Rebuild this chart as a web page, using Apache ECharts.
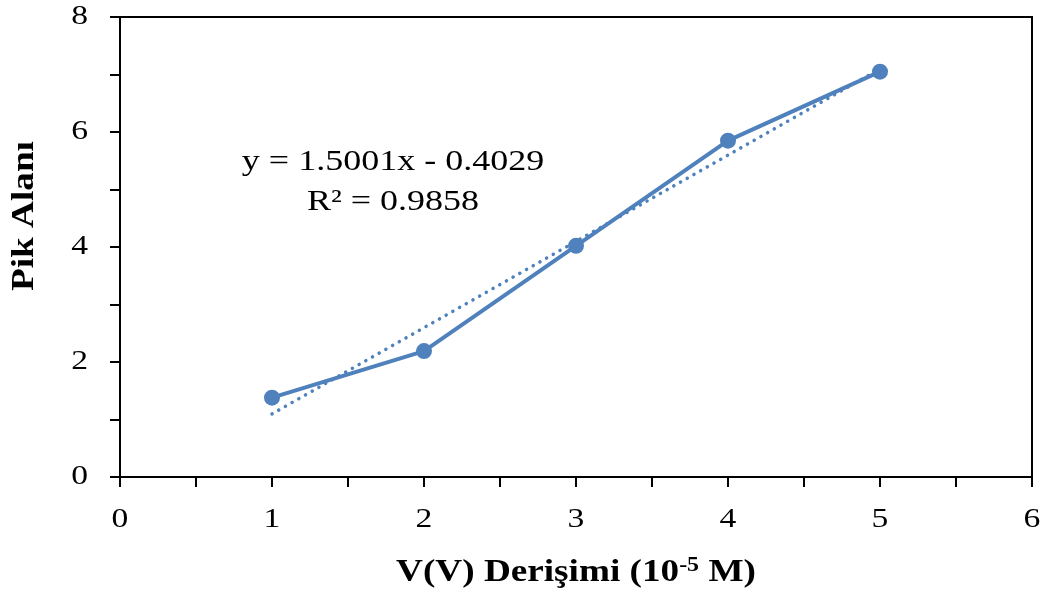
<!DOCTYPE html>
<html>
<head>
<meta charset="utf-8">
<script src="https://cdn.jsdelivr.net/npm/echarts@6/dist/echarts.min.js"></script>
<style>
  html, body { margin: 0; padding: 0; background: #fff; }
  #chart { width: 1047px; height: 596px; }
</style>
</head>
<body>
<div id="chart"></div>
<script>
// Concentration (10^-5 M) and measured peak area
const concentrations = [1, 2, 3, 4, 5];
const peakAreas = [1.38, 2.19, 4.02, 5.85, 7.05];

// Linear fit reported for the series
const slope = 1.5001;
const intercept = -0.4029;
const rSquared = 0.9858;
const fitRange = [1, 5];

const xTicks = { min: 0, max: 6, interval: 1 };
const yTicks = { min: 0, max: 8, interval: 2 };

const blue = '#4F81BD';
const serif = 'Liberation Serif';

// All chart text is set in a slightly widened serif face: glyphs are drawn
// stretched horizontally around their anchor, and measured accordingly so
// that ECharts lays them out with the widened widths.
const TEXT_STRETCH = 1.2;
(function () {
  const proto = CanvasRenderingContext2D.prototype;
  const fill = proto.fillText;
  const measure = proto.measureText;
  proto.fillText = function (text, x, y, maxWidth) {
    this.save();
    this.translate(x, y);
    this.scale(TEXT_STRETCH, 1);
    if (maxWidth !== undefined) fill.call(this, text, 0, 0, maxWidth / TEXT_STRETCH);
    else fill.call(this, text, 0, 0);
    this.restore();
  };
  proto.measureText = function (text) {
    const m = measure.call(this, text);
    return {
      width: m.width * TEXT_STRETCH,
      actualBoundingBoxAscent: m.actualBoundingBoxAscent,
      actualBoundingBoxDescent: m.actualBoundingBoxDescent,
      actualBoundingBoxLeft: m.actualBoundingBoxLeft * TEXT_STRETCH,
      actualBoundingBoxRight: m.actualBoundingBoxRight * TEXT_STRETCH,
      fontBoundingBoxAscent: m.fontBoundingBoxAscent,
      fontBoundingBoxDescent: m.fontBoundingBoxDescent
    };
  };
})();

const measured = concentrations.map((x, i) => [x, peakAreas[i]]);
const fitLine = fitRange.map(x => [x, slope * x + intercept]);

const chart = echarts.init(document.getElementById('chart'), null, { renderer: 'canvas' });

const axisCommon = {
  type: 'value',
  axisLine: { show: true, onZero: false, lineStyle: { color: '#000', width: 2 } },
  axisTick: { show: true, inside: false, length: 10, lineStyle: { color: '#000', width: 2 } },
  minorTick: { show: true, splitNumber: 2, length: 10, lineStyle: { color: '#000', width: 2 } },
  splitLine: { show: false },
  axisLabel: { color: '#000', fontFamily: serif, fontSize: 28 }
};

chart.setOption({
  animation: false,
  backgroundColor: '#fff',
  grid: {
    left: 120, right: 15, top: 17, bottom: 119,
    containLabel: false,
    outerBoundsMode: 'none',
    show: true, borderColor: '#000', borderWidth: 2, backgroundColor: 'transparent'
  },
  xAxis: Object.assign({}, axisCommon, {
    min: xTicks.min, max: xTicks.max, interval: xTicks.interval,
    axisLabel: Object.assign({}, axisCommon.axisLabel, { margin: 26 }),
    name: 'V(V) Derişimi (10{sup|-5} M)',
    nameLocation: 'middle',
    nameGap: 77,
    nameTextStyle: {
      color: '#000', fontFamily: serif, fontSize: 31, fontWeight: 'bold',
      rich: {
        sup: { fontFamily: serif, fontSize: 20, fontWeight: 'bold', color: '#000', padding: [0, 0, 14, 0] }
      }
    }
  }),
  yAxis: Object.assign({}, axisCommon, {
    min: yTicks.min, max: yTicks.max, interval: yTicks.interval,
    axisLabel: Object.assign({}, axisCommon.axisLabel, { margin: 32 }),
    name: 'Pik Alanı',
    nameLocation: 'middle',
    nameRotate: 90,
    nameGap: 76,
    nameTextStyle: {
      color: '#000', fontFamily: serif, fontSize: 31, fontWeight: 'bold',
      padding: [0, 0, 0, 62]
    }
  }),
  series: [
    {
      name: 'Pik Alanı',
      type: 'line',
      data: measured,
      symbol: 'circle',
      symbolSize: 16,
      itemStyle: { color: blue },
      lineStyle: { color: blue, width: 4 },
      z: 2
    },
    {
      name: 'Doğrusal',
      type: 'line',
      data: fitLine,
      symbol: 'none',
      lineStyle: { color: blue, width: 3.5, type: [0.1, 7.6], cap: 'round' },
      z: 3
    }
  ],
  graphic: [
    {
      type: 'text',
      x: 393, y: 162,
      style: {
        text: 'y = ' + slope.toFixed(4) + 'x - ' + Math.abs(intercept).toFixed(4),
        fontFamily: serif, fontSize: 30, fill: '#000',
        align: 'center', verticalAlign: 'middle'
      }
    },
    {
      type: 'text',
      x: 393, y: 202,
      style: {
        text: 'R² = ' + rSquared.toFixed(4),
        fontFamily: serif, fontSize: 30, fill: '#000',
        align: 'center', verticalAlign: 'middle'
      }
    }
  ]
});
</script>
</body>
</html>
